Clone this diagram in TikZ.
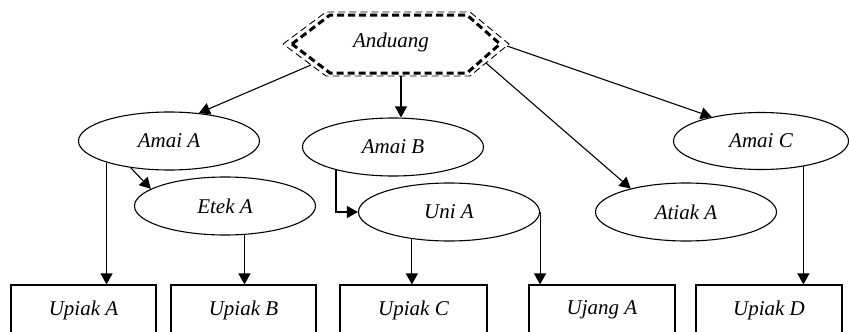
\documentclass[tikz,border=0pt]{standalone}
\usepackage{fontspec}
\setmainfont{Liberation Serif}
\usetikzlibrary{arrows.meta,shapes.geometric}
\begin{document}
\begin{tikzpicture}[x=1pt,y=-1pt,
  every node/.style={font=\fontsize{21}{24}\selectfont\itshape, inner sep=0pt},
  ell/.style={draw, ellipse, line width=1.1pt, minimum width=181pt, minimum height=58pt},
  box/.style={draw, rectangle, line width=1.1pt, minimum width=145pt, minimum height=50pt},
  arr/.style={line width=1.1pt, -{Triangle[length=11pt,width=12pt]}},
  hexthin/.style={line width=0.9pt, dash pattern=on 7pt off 4pt},
  hexthick/.style={line width=3pt, dash pattern=on 7pt off 4pt},
]
\clip (0,0) rectangle (849,332);
\fill[white] (0,0) rectangle (849,332);
% hexagon
\draw[hexthin] (283,44) -- (326,12) -- (470,12) -- (509,44) -- (470,76) -- (326,76) -- cycle;
\draw[hexthick] (292,44) -- (330,15) -- (467,15) -- (500,44) -- (467,73) -- (330,73) -- cycle;
\node (Anduang) at (391,42) {Anduang};
\coordinate (h1) at (311,65);
\coordinate (h2) at (401,76);
\coordinate (h3) at (486,63);
\coordinate (h4) at (507,46);
% ellipses
\node[ell] (AmaiA) at (169,141) {Amai A};
\node[ell] (EtekA) at (225,206) {Etek A};
\node[ell] (AmaiB) at (393,147) {Amai B};
\node[ell] (UniA) at (449,212) {Uni A};
\node[ell] (AtiakA) at (686,212) {Atiak A};
\node[ell, minimum width=175pt, minimum height=57pt] (AmaiC) at (761,141) {Amai C};
% boxes
\node[box] (UpiakA) at (83.5,310) {Upiak A};
\node[box] (UpiakB) at (243.5,310) {Upiak B};
\node[box, minimum width=147pt] (UpiakC) at (413.5,310) {Upiak C};
\node[box, minimum width=146pt] (UjangA) at (602,310) {Ujang A};
\node[box, minimum width=146pt] (UpiakD) at (769,310) {Upiak D};
% connectors
\draw[arr] (h1) -- (AmaiA.43);
\draw[arr] (h2) -- (h2 |- AmaiB.north);
\draw[arr] (h3) -- (AtiakA.157);
\draw[arr] (h4) -- (AmaiC.154);
\draw[arr] (AmaiA.215) -- (EtekA.167);
\draw[arr] (AmaiA.199) -- (AmaiA.199 |- UpiakA.north);
\draw[arr] (EtekA.304) -- (EtekA.304 |- UpiakB.north);
\draw[arr] (AmaiB.202) |- (UniA.west);
\draw[arr] (UniA.216) -- (UniA.216 |- UpiakC.north);
\draw[arr] (UniA.east) -- (UniA.east |- UjangA.north);
\draw[arr] (AmaiC.329) -- (AmaiC.329 |- UpiakD.north);
\end{tikzpicture}
\end{document}
